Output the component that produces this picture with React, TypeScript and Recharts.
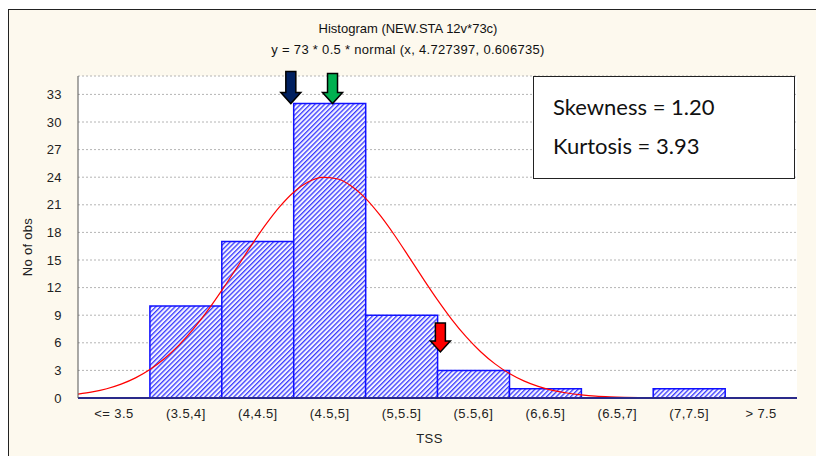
import React from "react";
import {
  ComposedChart,
  Bar,
  Line,
  XAxis,
  YAxis,
  CartesianGrid,
  ReferenceDot,
} from "recharts";

if (typeof document !== "undefined") document.body.style.margin = "0";

// histogram bins (TSS)
const bins = ["<= 3.5", "(3.5,4]", "(4,4.5]", "(4.5,5]", "(5,5.5]", "(5.5,6]", "(6,6.5]", "(6.5,7]", "(7,7.5]", "> 7.5"];
const counts = [0, 10, 17, 32, 9, 3, 1, 0, 1, 0];

// fitted normal curve
const curveX = [3.0, 3.1, 3.2, 3.3, 3.4, 3.5, 3.6, 3.7, 3.8, 3.9, 4.0, 4.1, 4.2, 4.3, 4.4, 4.5, 4.6, 4.7, 4.8, 4.9, 5.0, 5.1, 5.2, 5.3, 5.4, 5.5, 5.6, 5.7, 5.8, 5.9, 6.0, 6.1, 6.2, 6.3, 6.4, 6.5, 6.6, 6.7, 6.8, 6.9, 7.0, 7.5, 8.0];
const curveY = [0.42, 0.66, 1.01, 1.51, 2.19, 3.1, 4.27, 5.72, 7.46, 9.47, 11.7, 14.06, 16.45, 18.73, 20.75, 22.37, 23.48, 23.98, 23.83, 23.05, 21.7, 19.87, 17.72, 15.37, 12.98, 10.67, 8.53, 6.64, 5.03, 3.71, 2.66, 1.86, 1.26, 0.83, 0.54, 0.34, 0.2, 0.12, 0.07, 0.04, 0.02, 0, 0];

const yTicks = [0, 3, 6, 9, 12, 15, 18, 21, 24, 27, 30, 33];
const binEdges = [3.5, 4, 4.5, 5, 5.5, 6, 6.5, 7, 7.5];

// arrow markers: x position on TSS scale, tip height
const arrows = [
  { x: 4.48, y: 32, color: "#002060", len: 32 },
  { x: 4.77, y: 32, color: "#00b050", len: 30 },
  { x: 5.52, y: 5, color: "#ff0000", len: 29 },
];

const barData = bins.map((b, i) => ({ bin: b, count: counts[i] }));
const curveData = curveX.map((x, i) => ({ x, y: curveY[i] }));

const font = "'Liberation Sans', Arial, sans-serif";
const tickStyle = { fontFamily: font, fontSize: 13, fill: "#222", letterSpacing: 0.4 };

const Arrow = (props: any) => {
  const { cx, cy, color, len } = props;
  const sw = 5;
  const hw = 10;
  const hh = 11;
  const top = cy - len;
  const d = `M${cx - sw},${top} L${cx + sw},${top} L${cx + sw},${cy - hh} L${cx + hw},${cy - hh} L${cx},${cy} L${cx - hw},${cy - hh} L${cx - sw},${cy - hh} Z`;
  return <path d={d} fill={color} stroke="#000" strokeWidth={1.5} strokeLinejoin="miter" />;
};

const NoTick = () => <g />;

export default function App() {
  return (
    <div style={{ position: "relative", width: 816, height: 456, background: "#fff", overflow: "hidden" }}>
      <div
        style={{
          position: "absolute",
          left: 8,
          top: 9,
          width: 820,
          height: 460,
          background: "#fdf9ee",
          borderLeft: "1.5px solid #222",
          borderTop: "1.5px solid #222",
        }}
      />
      <div style={{ position: "absolute", left: 0, top: 21, width: 816, textAlign: "center", fontFamily: font, fontSize: 13, lineHeight: "16px", color: "#111" }}>
        Histogram (NEW.STA 12v*73c)
      </div>
      <div style={{ position: "absolute", left: 0, top: 42, width: 816, textAlign: "center", fontFamily: font, fontSize: 13, lineHeight: "16px", color: "#111", letterSpacing: 0.3 }}>
        y = 73 * 0.5 * normal (x, 4.727397, 0.606735)
      </div>
      <div style={{ position: "absolute", left: 0, top: 0 }}>
        <ComposedChart width={816} height={456} data={barData} margin={{ top: 76, right: 19, left: 0, bottom: 0 }} barCategoryGap={0}>
          <defs>
            <pattern id="hatch" width="3.4" height="3.4" patternUnits="userSpaceOnUse" patternTransform="rotate(45)">
              <rect width="3.4" height="3.4" fill="#f4f4ff" />
              <rect width="1.3" height="3.4" fill="#3a3aff" />
            </pattern>
          </defs>
          <CartesianGrid vertical={false} stroke="#b4b4b4" strokeDasharray="2 2" fill="#ffffff" yAxisId="left" />
          <XAxis
            xAxisId="cat"
            dataKey="bin"
            height={58}
            interval={0}
            tickLine={false}
            axisLine={{ stroke: "#2a2a8a", strokeWidth: 2 }}
            tick={tickStyle}
            tickMargin={5}
            label={{ value: "TSS", position: "insideTop", dy: 31, dx: -8, fontFamily: font, fontSize: 13, fill: "#222", letterSpacing: 0.4 }}
          />
          <XAxis
            xAxisId="curve"
            type="number"
            dataKey="x"
            domain={[3, 8]}
            ticks={binEdges}
            orientation="top"
            height={0}
            mirror
            tickSize={3}
            tick={NoTick}
            axisLine={{ stroke: "#555" }}
            tickLine={{ stroke: "#555" }}
          />
          <YAxis
            yAxisId="left"
            domain={[0, 35]}
            ticks={yTicks}
            width={78}
            tickLine={false}
            axisLine={{ stroke: "#555" }}
            tick={tickStyle}
            tickMargin={10}
            label={{ value: "No of obs", angle: -90, position: "insideLeft", dx: 22, dy: 10, fontFamily: font, fontSize: 13, fill: "#222", letterSpacing: 0.3, style: { textAnchor: "middle" } }}
          />
          <YAxis
            yAxisId="right"
            orientation="right"
            domain={[0, 35]}
            ticks={yTicks}
            width={0}
            mirror
            tickSize={3}
            tick={NoTick}
            axisLine={{ stroke: "#555" }}
            tickLine={{ stroke: "#555" }}
          />
          <Bar xAxisId="cat" yAxisId="left" dataKey="count" fill="url(#hatch)" stroke="#1010ff" strokeWidth={1.5} isAnimationActive={false} />
          <Line
            xAxisId="curve"
            yAxisId="left"
            data={curveData}
            dataKey="y"
            type="monotone"
            stroke="#ff0000"
            strokeWidth={1.2}
            dot={false}
            activeDot={false}
            isAnimationActive={false}
          />
          {arrows.map((a) => (
            <ReferenceDot
              key={a.color}
              xAxisId="curve"
              yAxisId="left"
              x={a.x}
              y={a.y}
              r={0}
              shape={(p: any) => <Arrow {...p} color={a.color} len={a.len} />}
            />
          ))}
        </ComposedChart>
      </div>
      <div
        style={{
          position: "absolute",
          left: 533,
          top: 76,
          width: 262,
          height: 103,
          background: "#fff",
          border: "1.5px solid #222",
          fontFamily: "Lato, 'Open Sans', sans-serif",
          fontSize: 22,
          color: "#111",
          boxSizing: "border-box",
          paddingLeft: 19,
        }}
      >
        <div style={{ position: "absolute", top: 16 }}>Skewness = 1.20</div>
        <div style={{ position: "absolute", top: 55 }}>Kurtosis = 3.93</div>
      </div>
    </div>
  );
}
